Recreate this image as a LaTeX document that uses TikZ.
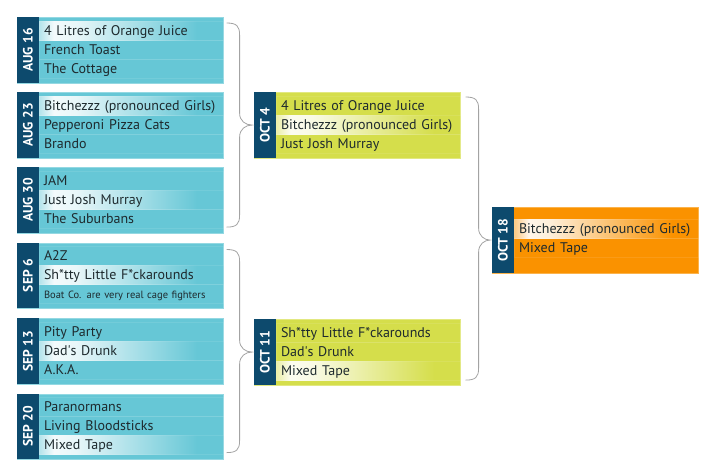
\documentclass[tikz,border=0pt]{standalone}
\usepackage{fontspec}
\setmainfont{PT Sans}
\usetikzlibrary{positioning,calc}

\definecolor{datebg}{HTML}{0D4A6D}
\definecolor{cyanbox}{HTML}{66C7D6}
\definecolor{limebox}{HTML}{D5DE4B}
\definecolor{orangebox}{HTML}{FA9200}
\definecolor{teamtext}{HTML}{1E2A2E}
\definecolor{bracegray}{HTML}{A3A3A3}

\pgfdeclarehorizontalshading{cyanglow}{100bp}{color(0bp)=(cyanbox!50!white); color(25bp)=(cyanbox!50!white); color(29bp)=(cyanbox!8!white); color(35bp)=(cyanbox!15!white); color(68bp)=(cyanbox); color(100bp)=(cyanbox)}
\pgfdeclarehorizontalshading{limeglow}{100bp}{color(0bp)=(limebox!50!white); color(25bp)=(limebox!50!white); color(29bp)=(limebox!8!white); color(35bp)=(limebox!15!white); color(68bp)=(limebox); color(100bp)=(limebox)}
\pgfdeclarehorizontalshading{orangeglow}{100bp}{color(0bp)=(orangebox!50!white); color(25bp)=(orangebox!50!white); color(29bp)=(orangebox!8!white); color(35bp)=(orangebox!15!white); color(68bp)=(orangebox); color(100bp)=(orangebox)}

\begin{document}
\begin{tikzpicture}[x=1pt,y=1pt,
    teambox/.style={anchor=north west, minimum width=206pt, minimum height=65.5pt, inner sep=0pt, fill=#1, draw=white!30!#1, line width=.6pt},
    datebar/.style={rotate=90, minimum width=65.5pt, minimum height=22pt, inner sep=0pt, fill=datebg, text=white, font=\fontsize{13.5}{15}\selectfont\bfseries},
    row/.style={minimum width=184pt, text width=174pt, minimum height=19pt, text height=11pt, text depth=2pt, inner xsep=5pt, inner ysep=0pt, outer sep=0pt, align=left, text=teamtext, font=\fontsize{14}{16}\selectfont, draw=white, draw opacity=.09, line width=.5pt},
    glow/.style={row, shade, shading=#1},
    bracket/.style={draw=bracegray, line width=.8pt},
  ]
  \useasboundingbox (0,0) rectangle (714,-475);

  % first round
  \node[teambox=cyanbox] (aug16) at (17,-17) {};
  \node[datebar] (aug16d) at ([xshift=11pt]aug16.west) {AUG 16};
  \node[glow=cyanglow, anchor=north west] (aug16a) at ([xshift=22pt,yshift=-4pt]aug16.north west) {4 Litres of Orange Juice};
  \node[row, below=0pt of aug16a] (aug16b) {French Toast};
  \node[row, below=0pt of aug16b] (aug16c) {The Cottage};

  \node[teambox=cyanbox] (aug23) at (17,-92) {};
  \node[datebar] (aug23d) at ([xshift=11pt]aug23.west) {AUG 23};
  \node[glow=cyanglow, anchor=north west] (aug23a) at ([xshift=22pt,yshift=-4pt]aug23.north west) {Bitchezzz (pronounced Girls)};
  \node[row, below=0pt of aug23a] (aug23b) {Pepperoni Pizza Cats};
  \node[row, below=0pt of aug23b] (aug23c) {Brando};

  \node[teambox=cyanbox] (aug30) at (17,-167) {};
  \node[datebar] (aug30d) at ([xshift=11pt]aug30.west) {AUG 30};
  \node[row, anchor=north west] (aug30a) at ([xshift=22pt,yshift=-4pt]aug30.north west) {JAM};
  \node[glow=cyanglow, below=0pt of aug30a] (aug30b) {Just Josh Murray};
  \node[row, below=0pt of aug30b] (aug30c) {The Suburbans};

  \node[teambox=cyanbox] (sep6) at (17,-242.5) {};
  \node[datebar] (sep6d) at ([xshift=11pt]sep6.west) {SEP 6};
  \node[row, anchor=north west] (sep6a) at ([xshift=22pt,yshift=-4pt]sep6.north west) {A2Z};
  \node[glow=cyanglow, below=0pt of sep6a] (sep6b) {Sh*tty Little F*ckarounds};
  \node[row, below=0pt of sep6b, font=\fontsize{10.5}{12}\selectfont] (sep6c) {Boat Co. are very real cage fighters};

  \node[teambox=cyanbox] (sep13) at (17,-318) {};
  \node[datebar] (sep13d) at ([xshift=11pt]sep13.west) {SEP 13};
  \node[row, anchor=north west] (sep13a) at ([xshift=22pt,yshift=-4pt]sep13.north west) {Pity Party};
  \node[glow=cyanglow, below=0pt of sep13a] (sep13b) {Dad\textquotesingle s Drunk};
  \node[row, below=0pt of sep13b] (sep13c) {A.K.A.};

  \node[teambox=cyanbox] (sep20) at (17,-393.5) {};
  \node[datebar] (sep20d) at ([xshift=11pt]sep20.west) {SEP 20};
  \node[row, anchor=north west] (sep20a) at ([xshift=22pt,yshift=-4pt]sep20.north west) {Paranormans};
  \node[row, below=0pt of sep20a] (sep20b) {Living Bloodsticks};
  \node[glow=cyanglow, below=0pt of sep20b] (sep20c) {Mixed Tape};

  % semi finals
  \node[teambox=limebox] (oct4) at (254,-92) {};
  \node[datebar] (oct4d) at ([xshift=11pt]oct4.west) {OCT 4};
  \node[row, anchor=north west] (oct4a) at ([xshift=22pt,yshift=-4pt]oct4.north west) {4 Litres of Orange Juice};
  \node[glow=limeglow, below=0pt of oct4a] (oct4b) {Bitchezzz (pronounced Girls)};
  \node[row, below=0pt of oct4b] (oct4c) {Just Josh Murray};

  \node[teambox=limebox] (oct11) at (254,-319) {};
  \node[datebar] (oct11d) at ([xshift=11pt]oct11.west) {OCT 11};
  \node[row, anchor=north west] (oct11a) at ([xshift=22pt,yshift=-4pt]oct11.north west) {Sh*tty Little F*ckarounds};
  \node[row, below=0pt of oct11a] (oct11b) {Dad\textquotesingle s Drunk};
  \node[glow=limeglow, below=0pt of oct11b] (oct11c) {Mixed Tape};

  % final
  \node[teambox=orangebox] (oct18) at (492,-207) {};
  \node[datebar] (oct18d) at ([xshift=11pt]oct18.west) {OCT 18};
  \node[glow=orangeglow, anchor=north west] (oct18a) at ([xshift=22pt,yshift=-12.5pt]oct18.north west) {Bitchezzz (pronounced Girls)};
  \node[row, below=0pt of oct18a] (oct18b) {Mixed Tape};

  % braces
  \draw[bracket] let \p1=([xshift=3pt,yshift=-6pt]aug16.north east), \p2=([xshift=3pt,yshift=6pt]aug30.south east), \p3=([xshift=-2pt]oct4.west) in
    (\p1) .. controls (\x1+10pt,\y1) and (\x1+13pt,\y1-3pt) .. (\x1+13pt,\y1-12pt) -- (\x1+13pt,\y3+12pt)
    .. controls (\x1+13pt,\y3+4pt) and (\x1+19pt,\y3) .. (\p3)
    .. controls (\x1+19pt,\y3) and (\x1+13pt,\y3-4pt) .. (\x1+13pt,\y3-12pt) -- (\x1+13pt,\y2+12pt)
    .. controls (\x1+13pt,\y2+3pt) and (\x1+10pt,\y2) .. (\p2);
  \draw[bracket] let \p1=([xshift=3pt,yshift=-7pt]sep6.north east), \p2=([xshift=3pt,yshift=7pt]sep20.south east), \p3=([xshift=-2pt]oct11.west) in
    (\p1) .. controls (\x1+10pt,\y1) and (\x1+13pt,\y1-3pt) .. (\x1+13pt,\y1-12pt) -- (\x1+13pt,\y3+12pt)
    .. controls (\x1+13pt,\y3+4pt) and (\x1+19pt,\y3) .. (\p3)
    .. controls (\x1+19pt,\y3) and (\x1+13pt,\y3-4pt) .. (\x1+13pt,\y3-12pt) -- (\x1+13pt,\y2+12pt)
    .. controls (\x1+13pt,\y2+3pt) and (\x1+10pt,\y2) .. (\p2);
  \draw[bracket] let \p1=([xshift=5pt,yshift=-5pt]oct4.north east), \p2=([xshift=5pt,yshift=5pt]oct11.south east), \p3=([xshift=-2pt]oct18.west) in
    (\p1) .. controls (\x1+10pt,\y1) and (\x1+13pt,\y1-3pt) .. (\x1+13pt,\y1-12pt) -- (\x1+13pt,\y3+12pt)
    .. controls (\x1+13pt,\y3+4pt) and (\x1+19pt,\y3) .. (\p3)
    .. controls (\x1+19pt,\y3) and (\x1+13pt,\y3-4pt) .. (\x1+13pt,\y3-12pt) -- (\x1+13pt,\y2+12pt)
    .. controls (\x1+13pt,\y2+3pt) and (\x1+10pt,\y2) .. (\p2);
\end{tikzpicture}
\end{document}
